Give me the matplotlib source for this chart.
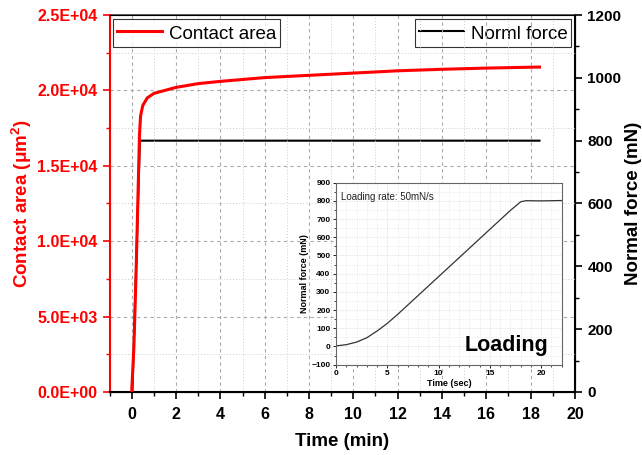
import matplotlib
matplotlib.use("Agg")
import matplotlib.pyplot as plt
from matplotlib.ticker import MultipleLocator, FuncFormatter

plt.rcParams['font.family'] = ['Liberation Sans', 'DejaVu Sans']
plt.rcParams['mathtext.fontset'] = 'custom'
plt.rcParams['mathtext.rm'] = 'Liberation Sans'
plt.rcParams['mathtext.bf'] = 'Liberation Sans:bold'

# ---- data: main chart (time in minutes) ----
area_time = [0, 0.1, 0.2, 0.3, 0.35, 0.4, 0.5, 0.7, 1.0, 1.5, 2, 3, 4, 6, 8, 10, 12, 14, 16, 18.4]
area_vals = [0, 3000, 8000, 14000, 17000, 18300, 19000, 19500, 19800, 20000, 20200, 20450,
             20600, 20850, 21000, 21150, 21300, 21400, 21480, 21550]
force_time = [0, 0.03, 0.37, 18.4]
force_vals = [0, 0, 800, 800]

# ---- data: inset (time in seconds) ----
inset_time = [0, 1, 2, 3, 4, 5, 6, 7, 8, 9, 10, 11, 12, 13, 14, 15, 16, 17, 18, 18.5, 20, 22]
inset_force = [3, 10, 24, 48, 85, 127, 176, 228, 280, 332, 384, 436, 488, 540, 592, 644,
               696, 748, 795, 801, 800, 802]

fig = plt.figure(figsize=(6.42, 4.55), dpi=100)
ax = fig.add_axes([0.1706, 0.1385, 0.725, 0.8285])
ax2 = ax.twinx()

ax.set_xlim(-1, 20)
ax.set_ylim(0, 25000)
ax2.set_ylim(0, 1200)

ax.plot(area_time, area_vals, color='#ff0000', lw=2.2, label='Contact area', zorder=3)
ax2.plot(force_time, force_vals, color='black', lw=1.5, label='Norml force', zorder=3)

# ticks
ax.xaxis.set_major_locator(MultipleLocator(2))
ax.xaxis.set_minor_locator(MultipleLocator(1))
ax.yaxis.set_major_locator(MultipleLocator(5000))
ax.yaxis.set_minor_locator(MultipleLocator(2500))
ax2.yaxis.set_major_locator(MultipleLocator(200))
ax2.yaxis.set_minor_locator(MultipleLocator(100))

ax.yaxis.set_major_formatter(FuncFormatter(lambda v, p: f"{v:.1E}"))
ax.xaxis.set_major_formatter(FuncFormatter(lambda v, p: f"{int(v)}" if v >= 0 else ""))

ax.tick_params(axis='x', which='major', direction='out', length=5, width=1.2, labelsize=11.5, pad=6)
ax.tick_params(axis='x', which='minor', direction='out', length=3, width=1)
ax.tick_params(axis='y', which='major', direction='out', length=5, width=1.2, colors='#ff0000', labelsize=11.5)
ax.tick_params(axis='y', which='minor', direction='out', length=3, width=1, colors='#ff0000')
ax2.tick_params(axis='y', which='major', direction='out', length=5, width=1.2, labelsize=11, pad=4)
ax2.tick_params(axis='y', which='minor', direction='out', length=3, width=1)
for lab in ax.get_xticklabels() + ax.get_yticklabels() + ax2.get_yticklabels():
    lab.set_fontweight('bold')

ax.spines['left'].set_color('#ff0000')
ax.spines['left'].set_linewidth(1.5)
ax2.spines['left'].set_visible(False)
ax.spines['bottom'].set_linewidth(1.5)
ax2.spines['right'].set_linewidth(1.5)
ax2.spines['top'].set_color('#444444')
ax2.spines['top'].set_linewidth(1.2)

# grid
ax.grid(which='major', color='#aaaaaa', linestyle=(0, (3, 3)), lw=0.8)
ax.grid(which='minor', color='#cccccc', linestyle=(0, (1, 2)), lw=0.7)
ax.set_axisbelow(True)

ax.set_xlabel('Time (min)', fontsize=13.5, fontweight='bold', labelpad=8)
ax.set_ylabel(r'Contact area (μm$^\mathbf{2}$)', fontsize=13.5, fontweight='bold', color='#ff0000')
ax.yaxis.set_label_coords(-0.162, 0.5)
ax2.set_ylabel('Normal force (mN)', fontsize=13.5, fontweight='bold', rotation=90)
ax2.yaxis.set_label_coords(1.107, 0.5)

leg_kw = dict(fontsize=13.5, frameon=True, fancybox=False, borderaxespad=0.2,
              handlelength=2.4, handletextpad=0.35, borderpad=0.2, handleheight=1.3)
leg1 = ax.legend(loc='upper left', **leg_kw)
leg1.get_frame().set_edgecolor('black')
leg1.get_frame().set_linewidth(0.8)
leg2 = ax2.legend(loc='upper right', **leg_kw)
leg2.get_frame().set_edgecolor('black')
leg2.get_frame().set_linewidth(0.8)
ax.set_zorder(ax2.get_zorder() + 1)
ax.patch.set_visible(False)

# ---- inset ----
ins = fig.add_axes([0.5234, 0.1985, 0.3516, 0.40])
ins.set_zorder(10)
ins.plot(inset_time, inset_force, color='#333333', lw=0.9)
ins.set_xlim(0, 22)
ins.set_ylim(-100, 900)
ins.xaxis.set_major_locator(MultipleLocator(5))
ins.xaxis.set_minor_locator(MultipleLocator(1))
ins.yaxis.set_major_locator(MultipleLocator(100))
ins.yaxis.set_minor_locator(MultipleLocator(50))
ins.grid(which='major', color='#d0d0d0', linestyle=(0, (1, 1.5)), lw=0.5)
ins.grid(which='minor', color='#e0e0e0', linestyle=(0, (1, 1.5)), lw=0.5)
ins.set_axisbelow(True)
ins.tick_params(which='major', direction='out', length=2.5, width=0.6, labelsize=6, pad=1.5)
ins.tick_params(which='minor', direction='out', length=1.5, width=0.5)
for lab in ins.get_xticklabels() + ins.get_yticklabels():
    lab.set_fontweight('bold')
for s in ins.spines.values():
    s.set_color('#666666')
    s.set_linewidth(0.8)
ins.set_xlabel('Time (sec)', fontsize=6.5, fontweight='bold', labelpad=1.5)
ins.set_ylabel('Normal force (mN)', fontsize=6.5, fontweight='bold', labelpad=2)
ins.text(0.02, 0.95, 'Loading rate: 50mN/s', transform=ins.transAxes, fontsize=7,
         ha='left', va='top', color='#222222')
ins.text(0.94, 0.05, 'Loading', transform=ins.transAxes, fontsize=15.5,
         fontweight='bold', ha='right', va='bottom')

fig.savefig('out.png', dpi=100)
